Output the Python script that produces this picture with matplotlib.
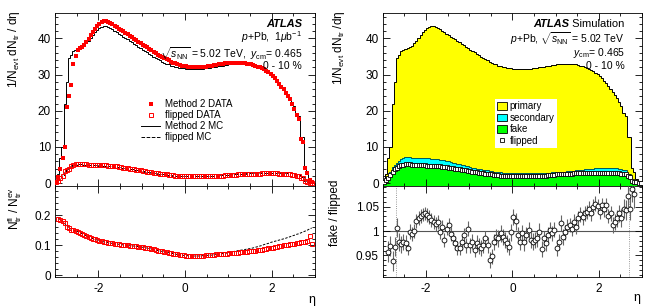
import numpy as np
import matplotlib
matplotlib.use("Agg")
import matplotlib.pyplot as plt
from matplotlib.ticker import MultipleLocator, FixedLocator, FuncFormatter
from matplotlib.patches import Patch
from matplotlib.lines import Line2D

plt.rcParams['font.family'] = ['Liberation Sans', 'DejaVu Sans']
plt.rcParams['mathtext.fontset'] = 'custom'
plt.rcParams['mathtext.rm'] = 'Liberation Sans'
plt.rcParams['mathtext.it'] = 'Liberation Sans:italic'
plt.rcParams['mathtext.bf'] = 'Liberation Sans:bold'

nan = np.nan

# 120 eta bins of width 0.05 between -3 and 3
eta_edges = np.linspace(-3.0, 3.0, 121)
eta = 0.5 * (eta_edges[1:] + eta_edges[:-1])

# Method 2 DATA, 1/Nevt dNtr/deta
data_m2 = [
    0.3, 1.7, 4.0, 7.0, 10.0, 21.0, 24.0, 27.0, 33.0, 35.0,
    36.8, 37.2, 37.6, 38.1, 38.9, 39.8, 40.8, 41.8, 42.7, 43.5,
    44.1, 44.5, 44.7, 44.8, 44.6, 44.3, 43.9, 43.5, 43.1, 42.7,
    42.3, 41.9, 41.5, 41.1, 40.7, 40.3, 39.9, 39.5, 39.1, 38.7,
    38.3, 37.9, 37.5, 37.1, 36.7, 36.3, 35.9, 35.5, 35.1, 34.8,
    34.5, 34.2, 33.9, 33.6, 33.3, 33.1, 32.9, 32.7, 32.5, 32.4,
    32.3, 32.2, 32.1, 32.1, 32.0, 32.0, 32.0, 32.1, 32.1, 32.2,
    32.3, 32.4, 32.5, 32.6, 32.7, 32.8, 32.9, 33.0, 33.1, 33.2,
    33.2, 33.3, 33.3, 33.3, 33.3, 33.2, 33.2, 33.1, 33.0, 32.9,
    32.8, 32.6, 32.4, 32.2, 32.0, 31.8, 31.4, 31.0, 30.6, 30.2,
    29.7, 29.1, 28.3, 27.5, 26.7, 25.9, 25.0, 24.2, 23.2, 22.0,
    20.6, 18.8, 17.8, 12.3, 11.5, 4.3, 2.7, 0.9, 0.2, nan,
]

# Method 2 MC (also the total of the stacked simulation)
mc_m2 = [
    1.0, 2.5, 7.0, 10.0, 22.0, 28.0, 34.5, 35.5, 36.5, 36.8,
    37.0, 37.3, 37.6, 38.0, 38.6, 39.3, 40.1, 40.9, 41.7, 42.3,
    42.8, 43.1, 43.3, 43.3, 43.1, 42.8, 42.5, 42.1, 41.7, 41.3,
    40.9, 40.5, 40.1, 39.7, 39.3, 38.9, 38.5, 38.1, 37.7, 37.3,
    36.9, 36.5, 36.1, 35.7, 35.3, 34.9, 34.5, 34.2, 33.9, 33.6,
    33.3, 33.0, 32.8, 32.5, 32.3, 32.1, 32.0, 31.9, 31.8, 31.7,
    31.6, 31.6, 31.5, 31.5, 31.5, 31.5, 31.5, 31.6, 31.6, 31.7,
    31.8, 31.9, 32.0, 32.1, 32.2, 32.3, 32.4, 32.5, 32.6, 32.7,
    32.8, 32.9, 33.0, 33.0, 33.0, 33.0, 33.0, 32.9, 32.9, 32.8,
    32.7, 32.5, 32.3, 32.1, 31.9, 31.6, 31.3, 30.9, 30.5, 30.1,
    29.6, 29.0, 28.3, 27.6, 26.8, 26.0, 25.2, 24.4, 23.5, 22.5,
    21.2, 19.5, 18.6, 12.8, 12.8, 4.2, 3.0, 1.2, 0.2, 0.0,
]

# flipped DATA
flip_data = [
    0.2, 0.6, 1.3, 2.0, 3.3, 3.6, 3.9, 4.6, 5.0, 5.2,
    5.3, 5.3, 5.3, 5.2, 5.2, 5.1, 5.1, 5.1, 5.0, 5.0,
    5.0, 5.0, 4.9, 4.9, 4.8, 4.8, 4.7, 4.6, 4.6, 4.5,
    4.4, 4.3, 4.2, 4.1, 4.0, 3.9, 3.8, 3.7, 3.6, 3.5,
    3.4, 3.3, 3.2, 3.1, 3.0, 2.9, 2.8, 2.7, 2.6, 2.5,
    2.4, 2.4, 2.3, 2.2, 2.2, 2.1, 2.1, 2.0, 2.0, 2.0,
    1.9, 1.9, 1.9, 1.9, 1.9, 1.9, 1.9, 1.9, 1.9, 1.9,
    1.9, 2.0, 2.0, 2.0, 2.0, 2.1, 2.1, 2.1, 2.2, 2.2,
    2.2, 2.3, 2.3, 2.3, 2.4, 2.4, 2.4, 2.5, 2.5, 2.5,
    2.5, 2.6, 2.6, 2.6, 2.6, 2.7, 2.7, 2.7, 2.7, 2.7,
    2.7, 2.7, 2.7, 2.6, 2.6, 2.6, 2.5, 2.5, 2.4, 2.3,
    2.2, 2.0, 1.9, 1.4, 1.3, 0.5, 0.3, 0.1, 0.0, nan,
]

# flipped MC
flip_mc = [
    0.3, 0.8, 1.5, 2.2, 3.2, 3.8, 4.2, 4.6, 4.9, 5.1,
    5.2, 5.2, 5.2, 5.1, 5.1, 5.0, 5.0, 4.9, 4.9, 4.9,
    4.8, 4.8, 4.8, 4.7, 4.7, 4.6, 4.6, 4.5, 4.4, 4.4,
    4.3, 4.2, 4.1, 4.0, 3.9, 3.8, 3.7, 3.6, 3.5, 3.4,
    3.3, 3.2, 3.1, 3.0, 2.9, 2.8, 2.7, 2.6, 2.5, 2.4,
    2.4, 2.3, 2.2, 2.2, 2.1, 2.1, 2.0, 2.0, 2.0, 1.9,
    1.9, 1.9, 1.9, 1.9, 1.9, 1.9, 1.9, 1.9, 1.9, 2.0,
    2.0, 2.0, 2.0, 2.1, 2.1, 2.1, 2.2, 2.2, 2.3, 2.3,
    2.4, 2.4, 2.5, 2.5, 2.5, 2.6, 2.6, 2.6, 2.7, 2.7,
    2.7, 2.7, 2.8, 2.8, 2.8, 2.8, 2.8, 2.9, 2.9, 2.9,
    2.9, 2.9, 2.9, 2.9, 2.9, 2.8, 2.8, 2.8, 2.7, 2.7,
    2.6, 2.5, 2.4, 1.9, 1.8, 0.6, 0.4, 0.2, 0.05, 0.0,
]

# N_fl / N_ev, data and MC
ratio_data = [
    nan, 0.186, 0.184, 0.180, 0.174, 0.162, 0.156, 0.152, 0.150, 0.148,
    0.145, 0.142, 0.138, 0.135, 0.131, 0.128, 0.125, 0.122, 0.119, 0.117,
    0.115, 0.113, 0.111, 0.110, 0.108, 0.107, 0.106, 0.105, 0.104, 0.103,
    0.102, 0.101, 0.100, 0.099, 0.098, 0.098, 0.097, 0.096, 0.095, 0.094,
    0.093, 0.092, 0.090, 0.089, 0.087, 0.086, 0.084, 0.082, 0.081, 0.079,
    0.078, 0.076, 0.075, 0.073, 0.072, 0.070, 0.069, 0.068, 0.067, 0.066,
    0.065, 0.065, 0.064, 0.064, 0.064, 0.064, 0.064, 0.065, 0.065, 0.066,
    0.066, 0.067, 0.067, 0.068, 0.069, 0.069, 0.070, 0.071, 0.071, 0.072,
    0.073, 0.073, 0.074, 0.075, 0.075, 0.076, 0.077, 0.077, 0.078, 0.079,
    0.080, 0.081, 0.082, 0.083, 0.084, 0.085, 0.087, 0.088, 0.089, 0.091,
    0.092, 0.093, 0.095, 0.096, 0.097, 0.099, 0.100, 0.102, 0.103, 0.104,
    0.105, 0.107, 0.108, 0.110, 0.111, 0.112, 0.115, 0.132, 0.105, nan,
]

ratio_mc = [
    nan, 0.190, 0.185, 0.180, 0.172, 0.165, 0.158, 0.153, 0.150, 0.148,
    0.145, 0.142, 0.138, 0.135, 0.131, 0.128, 0.125, 0.122, 0.119, 0.117,
    0.115, 0.113, 0.111, 0.110, 0.108, 0.107, 0.106, 0.105, 0.104, 0.103,
    0.102, 0.101, 0.100, 0.099, 0.098, 0.098, 0.097, 0.096, 0.095, 0.094,
    0.093, 0.092, 0.090, 0.089, 0.087, 0.086, 0.084, 0.082, 0.081, 0.079,
    0.078, 0.076, 0.075, 0.073, 0.072, 0.070, 0.069, 0.068, 0.067, 0.066,
    0.065, 0.065, 0.064, 0.064, 0.064, 0.064, 0.064, 0.065, 0.065, 0.066,
    0.066, 0.067, 0.067, 0.068, 0.069, 0.070, 0.071, 0.072, 0.073, 0.074,
    0.076, 0.077, 0.079, 0.080, 0.082, 0.083, 0.084, 0.085, 0.087, 0.088,
    0.089, 0.091, 0.093, 0.095, 0.097, 0.099, 0.102, 0.104, 0.106, 0.109,
    0.111, 0.113, 0.115, 0.117, 0.119, 0.121, 0.123, 0.126, 0.128, 0.131,
    0.133, 0.136, 0.138, 0.141, 0.144, 0.147, 0.150, 0.154, 0.157, nan,
]

# stacked simulation: top of fake (green) and of fake+secondary (cyan)
fake_top = [
    0.1, 0.5, 1.2, 1.9, 2.9, 3.5, 3.9, 4.3, 4.6, 4.8,
    4.9, 4.9, 4.9, 4.8, 4.8, 4.7, 4.7, 4.6, 4.6, 4.6,
    4.5, 4.5, 4.5, 4.4, 4.4, 4.3, 4.3, 4.2, 4.1, 4.1,
    4.0, 3.9, 3.8, 3.7, 3.6, 3.5, 3.4, 3.3, 3.2, 3.1,
    3.0, 2.9, 2.8, 2.7, 2.6, 2.5, 2.4, 2.3, 2.2, 2.1,
    2.1, 2.0, 1.9, 1.9, 1.8, 1.8, 1.7, 1.7, 1.7, 1.6,
    1.6, 1.6, 1.6, 1.6, 1.6, 1.6, 1.6, 1.6, 1.6, 1.7,
    1.7, 1.7, 1.7, 1.8, 1.8, 1.8, 1.9, 1.9, 2.0, 2.0,
    2.1, 2.1, 2.2, 2.2, 2.2, 2.3, 2.3, 2.3, 2.4, 2.4,
    2.4, 2.4, 2.5, 2.5, 2.5, 2.5, 2.5, 2.6, 2.6, 2.6,
    2.6, 2.6, 2.6, 2.6, 2.6, 2.5, 2.5, 2.5, 2.4, 2.4,
    2.3, 2.2, 2.1, 1.6, 1.5, 0.4, 0.3, 0.1, 0.0, 0.0,
]

sec_top = [
    0.5, 1.0, 2.0, 3.0, 4.4, 5.0, 5.6, 6.2, 6.7, 7.0,
    7.1, 7.1, 7.1, 7.0, 7.0, 6.9, 6.9, 6.9, 6.9, 6.9,
    6.9, 6.9, 6.8, 6.8, 6.7, 6.6, 6.5, 6.4, 6.3, 6.1,
    6.0, 5.8, 5.7, 5.5, 5.4, 5.2, 5.1, 4.9, 4.8, 4.6,
    4.5, 4.3, 4.2, 4.0, 3.9, 3.8, 3.7, 3.6, 3.5, 3.4,
    3.3, 3.2, 3.1, 3.0, 3.0, 2.9, 2.9, 2.8, 2.8, 2.8,
    2.7, 2.7, 2.7, 2.7, 2.7, 2.7, 2.7, 2.7, 2.7, 2.7,
    2.7, 2.8, 2.8, 2.8, 2.8, 2.9, 2.9, 2.9, 3.0, 3.0,
    3.0, 3.1, 3.1, 3.2, 3.2, 3.3, 3.3, 3.4, 3.4, 3.5,
    3.6, 3.6, 3.7, 3.8, 3.8, 3.9, 3.9, 4.0, 4.1, 4.1,
    4.2, 4.2, 4.3, 4.3, 4.3, 4.3, 4.2, 4.2, 4.1, 4.0,
    3.9, 3.7, 3.5, 2.6, 2.4, 1.0, 0.7, 0.3, 0.1, 0.0,
]

# fake / flipped with statistical errors
ratio_ff = [
    nan, nan, 0.958, 0.969, 0.939, 0.968, 1.007, 0.978, 0.973, 0.978,
    0.975, 0.965, 0.999, 0.994, 1.000, 1.021, 1.026, 1.031, 1.034, 1.036,
    1.033, 1.029, 1.022, 1.019, 1.014, 1.019, 0.997, 1.009, 0.982, 1.005,
    1.012, 0.994, 0.985, 0.975, 0.966, 0.965, 0.977, 0.992, 0.971, 1.005,
    0.971, 0.978, 0.961, 0.976, 0.970, 0.965, 0.971, 0.985, 0.971, 0.941,
    0.948, 0.978, 0.988, 0.985, 0.995, 0.988, 0.982, 0.975, 0.968, 0.997,
    1.029, 1.020, 0.992, 0.978, 0.995, 0.977, 0.992, 1.002, 0.982, 0.978,
    0.982, 0.985, 0.999, 0.963, 0.985, 0.975, 0.992, 1.002, 0.995, 1.003,
    0.965, 0.978, 1.016, 0.988, 0.997, 1.009, 1.012, 1.005, 1.019, 1.009,
    1.026, 1.034, 1.028, 1.036, 1.039, 1.046, 1.036, 1.050, 1.056, 1.051,
    1.039, 1.053, 1.044, 1.053, 1.031, 1.036, 1.012, 1.019, 1.026, 1.036,
    1.026, 1.046, 1.043, 1.071, 1.046, 1.085, 1.075, nan, nan, nan,
]

err_ff = [
    nan, nan, 0.022, 0.021, 0.021, 0.020, 0.019, 0.018, 0.017, 0.016,
    0.016, 0.015, 0.015, 0.015, 0.015, 0.014, 0.014, 0.014, 0.014, 0.014,
    0.014, 0.014, 0.014, 0.014, 0.014, 0.014, 0.014, 0.014, 0.014, 0.014,
    0.014, 0.014, 0.014, 0.014, 0.014, 0.015, 0.015, 0.015, 0.015, 0.015,
    0.015, 0.015, 0.015, 0.015, 0.016, 0.016, 0.016, 0.016, 0.016, 0.016,
    0.016, 0.016, 0.017, 0.017, 0.017, 0.017, 0.017, 0.017, 0.017, 0.017,
    0.017, 0.017, 0.017, 0.017, 0.017, 0.017, 0.017, 0.017, 0.017, 0.017,
    0.017, 0.017, 0.017, 0.017, 0.016, 0.016, 0.016, 0.016, 0.016, 0.016,
    0.016, 0.016, 0.016, 0.016, 0.015, 0.015, 0.015, 0.015, 0.015, 0.015,
    0.015, 0.015, 0.015, 0.015, 0.015, 0.015, 0.015, 0.015, 0.015, 0.015,
    0.015, 0.015, 0.015, 0.015, 0.015, 0.016, 0.016, 0.016, 0.017, 0.017,
    0.018, 0.019, 0.020, 0.022, 0.024, 0.026, 0.028, nan, nan, nan,
]

eta_acc = [-2.7, 2.7]

fig = plt.figure(figsize=(6.49, 3.08), dpi=100)
axL = fig.add_axes([0.0847, 0.396, 0.4006, 0.5617])
axLr = fig.add_axes([0.0847, 0.1006, 0.4006, 0.2955])
axR = fig.add_axes([0.590, 0.396, 0.399, 0.5617])
axRr = fig.add_axes([0.590, 0.1006, 0.399, 0.2955])

fmt = FuncFormatter(lambda v, p: '%g' % round(v, 3))


def style(ax, ymaj, ymin, xlabels=False):
    ax.set_xlim(-3, 3)
    ax.xaxis.set_major_locator(FixedLocator([-2, 0, 2]))
    ax.xaxis.set_minor_locator(MultipleLocator(0.5))
    ax.yaxis.set_major_locator(MultipleLocator(ymaj))
    ax.yaxis.set_minor_locator(MultipleLocator(ymin))
    ax.yaxis.set_major_formatter(fmt)
    ax.xaxis.set_major_formatter(fmt)
    ax.tick_params(which='both', direction='in', top=True, right=True,
                   labelsize=8.5, width=0.6, pad=3)
    ax.tick_params(which='major', length=5)
    ax.tick_params(which='minor', length=2.5)
    ax.tick_params(axis='x', pad=4)
    if not xlabels:
        ax.tick_params(labelbottom=False)
    for s in ax.spines.values():
        s.set_linewidth(0.6)


# ---- left top
axL.stairs(mc_m2, eta_edges, color='k', lw=0.7, baseline=None, zorder=2)
axL.stairs(flip_mc, eta_edges, color='k', lw=0.7, ls='--', baseline=None, zorder=2)
axL.plot(eta, data_m2, 's', color='red', ms=3, mew=0, zorder=3)
axL.plot(eta, flip_data, 's', color='red', mfc='none', mec='red', ms=3.5, mew=0.7, zorder=3)
axL.set_ylim(-0.8, 47)
style(axL, 10, 2)

hs = [Line2D([], [], ls='none', marker='s', color='red', ms=3, mew=0),
      Line2D([], [], ls='none', marker='s', color='red', mfc='none', mec='red', ms=3.5, mew=0.7),
      Line2D([], [], color='k', lw=0.7),
      Line2D([], [], color='k', lw=0.7, ls='--')]
axL.legend(hs, ['Method 2 DATA', 'flipped DATA', 'Method 2 MC', 'flipped MC'],
           loc='upper left', bbox_to_anchor=(0.331, 0.503), frameon=False,
           fontsize=7, handlelength=2.0, labelspacing=0.1, borderpad=0,
           handletextpad=0.5, borderaxespad=0)

tr = axL.transAxes
axL.text(0.95, 0.935, 'ATLAS', transform=tr, ha='right', va='center',
         fontsize=8, fontweight='bold', fontstyle='italic')
axL.text(0.95, 0.862, r'$p$+Pb,  1$\mu$b$^{-1}$', transform=tr, ha='right', va='center', fontsize=7.5)
axL.text(0.95, 0.768, r'$\sqrt{s_{\rm NN}}$ = 5.02 TeV,  $y_{\rm cm}$= 0.465', transform=tr,
         ha='right', va='center', fontsize=7.5)
axL.text(0.95, 0.695, '0 - 10 %', transform=tr, ha='right', va='center', fontsize=7.5)
axL.set_ylabel(r'1/N$_{\rm evt}$ dN$_{\rm tr}$ / dη', fontsize=8.5, loc='top')
axL.yaxis.set_label_coords(-0.125, 1.017)

# ---- left bottom
axLr.plot(eta, ratio_mc, color='k', lw=0.7, ls=(0, (2.5, 1.5)), zorder=2)
axLr.plot(eta, ratio_data, 's', color='red', mfc='none', mec='red', ms=3.5, mew=0.7, zorder=3)
axLr.set_ylim(-0.006, 0.297)
style(axLr, 0.1, 0.02, xlabels=True)
axLr.set_ylabel(r'N$_{\rm tr}^{\rm fl}$ / N$_{\rm tr}^{\rm ev}$', fontsize=8.5, loc='top')
axLr.yaxis.set_label_coords(-0.119, 0.99)
axLr.text(1.0, -0.25, 'η', transform=axLr.transAxes, ha='right', va='center', fontsize=9)

# ---- right top
axR.stairs(mc_m2, eta_edges, baseline=sec_top, fill=True, color='#ffff00', lw=0, zorder=1)
axR.stairs(sec_top, eta_edges, baseline=fake_top, fill=True, color='#00ffff', lw=0, zorder=1)
axR.stairs(fake_top, eta_edges, baseline=-1, fill=True, color='#00ff00', lw=0, zorder=1)
axR.stairs(mc_m2, eta_edges, color='k', lw=0.7, baseline=None, zorder=2)
axR.stairs(sec_top, eta_edges, color='#004040', lw=0.6, baseline=None, zorder=2)
axR.stairs(fake_top, eta_edges, color='#004000', lw=0.6, baseline=None, zorder=2)
axR.plot(eta, flip_mc, 's', mfc='white', mec='k', ms=3, mew=0.6, zorder=3)
axR.set_ylim(-0.8, 47)
style(axR, 10, 2)

hs = [Patch(facecolor='#ffff00', edgecolor='k', lw=0.6),
      Patch(facecolor='#00ffff', edgecolor='k', lw=0.6),
      Patch(facecolor='#00ff00', edgecolor='k', lw=0.6),
      Line2D([], [], ls='none', marker='s', mfc='white', mec='k', ms=3, mew=0.6)]
leg = axR.legend(hs, ['primary', 'secondary', 'fake', 'flipped'],
                 loc='upper left', bbox_to_anchor=(0.432, 0.503), frameon=True,
                 fontsize=7, handlelength=1.0, handleheight=0.8, labelspacing=0.15,
                 borderpad=0.25, handletextpad=0.3, borderaxespad=0, fancybox=False)
leg.get_frame().set_facecolor('white')
leg.get_frame().set_edgecolor('none')
leg.get_frame().set_alpha(1)
leg.set_zorder(5)

tr = axR.transAxes
sim = axR.text(0.934, 0.935, ' Simulation', transform=tr, ha='right', va='center', fontsize=8)
fig.canvas.draw()
bb = sim.get_window_extent().transformed(axR.transAxes.inverted())
axR.text(bb.x0, 0.935, 'ATLAS', transform=tr, ha='right', va='center',
         fontsize=8, fontweight='bold', fontstyle='italic')
axR.text(0.934, 0.855, r'$p$+Pb, $\sqrt{s_{\rm NN}}$ = 5.02 TeV', transform=tr,
         ha='right', va='center', fontsize=7.5)
axR.text(0.934, 0.77, r'$y_{\rm cm}$= 0.465', transform=tr, ha='right', va='center', fontsize=7.5)
axR.text(0.934, 0.695, '0 - 10 %', transform=tr, ha='right', va='center', fontsize=7.5)
axR.set_ylabel(r'1/N$_{\rm evt}$ dN$_{\rm tr}$ /dη', fontsize=8.5, loc='top')
axR.yaxis.set_label_coords(-0.139, 1.017)

# ---- right bottom
axRr.axhline(1.0, color='#555555', lw=0.8, zorder=1)
for x in eta_acc:
    axRr.axvline(x, color='#777777', lw=0.6, ls=':', zorder=1)
axRr.errorbar(eta, ratio_ff, yerr=err_ff, fmt='o', mfc='white', mec='k', ms=3.5, mew=0.6,
              ecolor='#666666', elinewidth=0.8, capsize=0, zorder=3)
axRr.set_ylim(0.906, 1.092)
style(axRr, 0.05, 0.01, xlabels=True)
axRr.set_ylabel('fake / flipped', fontsize=8.5, loc='top')
axRr.yaxis.set_label_coords(-0.162, 1.066)
axRr.text(0.996, -0.23, 'η', transform=axRr.transAxes, ha='right', va='center', fontsize=9)

fig.savefig('out.png', dpi=100)
